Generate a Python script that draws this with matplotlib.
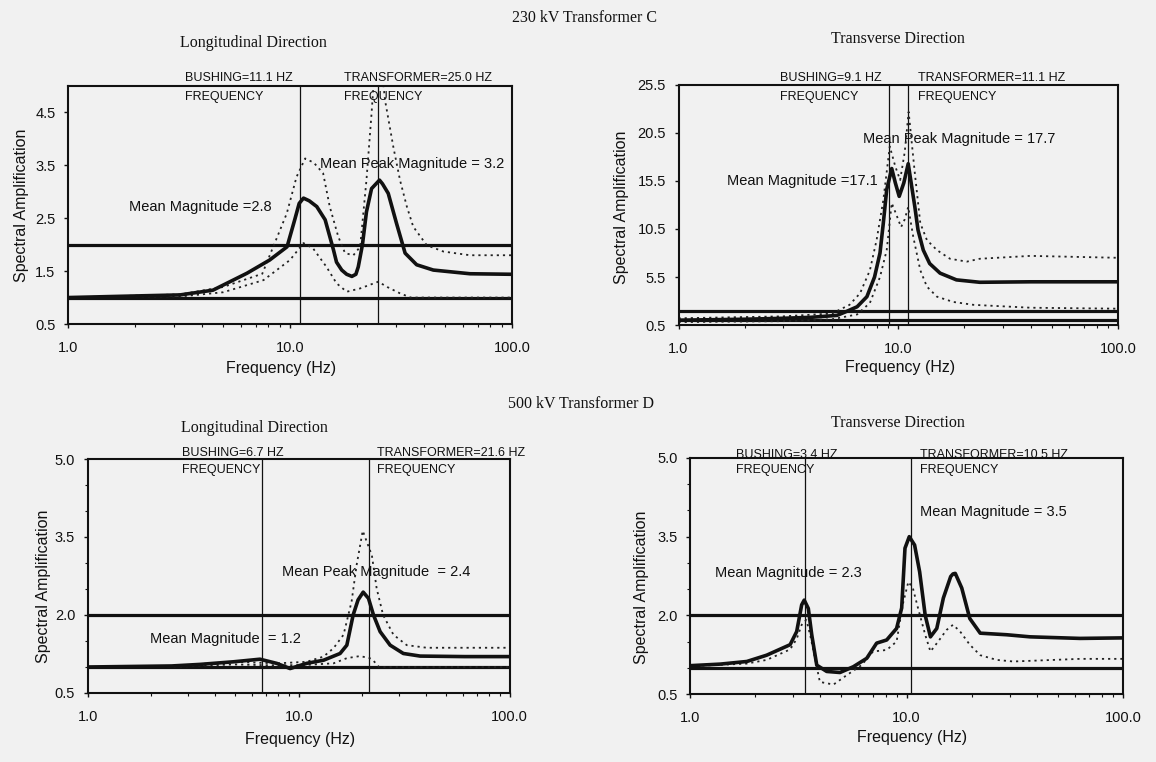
import matplotlib
matplotlib.use("Agg")
import matplotlib.pyplot as plt
from matplotlib.ticker import FixedLocator, NullFormatter, LogLocator

# ---------------- data ----------------
# 230 kV Transformer C, longitudinal
c_long_f = [1.0, 2.0, 3.2, 4.5, 6.4, 8.1, 9.7, 10.5, 11.0, 11.5, 12.2, 13.2, 14.4, 15.7, 16.2, 17.1,
            18.0, 19.0, 19.8, 20.3, 21.2, 22.1, 23.3, 24.4, 25.3, 26.1, 27.7, 30.2, 33.0, 37.2, 44.2,
            64.7, 100.0]
c_long_mean = [1.0, 1.03, 1.05, 1.14, 1.46, 1.71, 1.96, 2.47, 2.78, 2.88, 2.83, 2.72, 2.47, 1.90, 1.67,
               1.52, 1.44, 1.40, 1.44, 1.58, 2.0, 2.62, 3.06, 3.15, 3.22, 3.15, 2.97, 2.40, 1.84, 1.62,
               1.52, 1.45, 1.44]
c_long_up_f = [1.0, 3.2, 5.0, 7.5, 9.67, 10.7, 11.7, 12.8, 14.1, 15.1, 16.5, 17.7, 19.3, 20.7, 22.1, 23.3,
               24.3, 25.5, 26.8, 29.2, 31.3, 33.6, 35.9, 41.3, 49.1, 64.7, 100.0]
c_long_up = [1.0, 1.06, 1.2, 1.45, 2.59, 3.28, 3.63, 3.55, 3.35, 2.72, 2.15, 1.84, 1.80, 1.96, 3.22, 4.48,
             5.6, 5.6, 4.73, 3.85, 3.22, 2.72, 2.34, 1.99, 1.87, 1.80, 1.80]
c_long_lo_f = [1.0, 3.2, 5.0, 7.6, 10.0, 11.5, 12.7, 14.6, 16.2, 18.0, 20.6, 25.0, 27.4, 31.3, 35.0, 100.0]
c_long_lo = [1.0, 1.02, 1.1, 1.33, 1.71, 2.03, 1.93, 1.58, 1.27, 1.11, 1.17, 1.30, 1.20, 1.08, 1.0, 1.0]

# 230 kV Transformer C, transverse
c_tran_f = [1.0, 2.0, 3.0, 4.0, 5.26, 5.8, 6.5, 7.2, 7.8, 8.26, 8.55, 8.86, 9.34, 9.7, 10.1, 10.6, 11.1,
            11.9, 12.3, 13.0, 13.9, 15.5, 18.4, 23.5, 40.0, 100.0]
c_tran_mean = [1.0, 1.1, 1.2, 1.3, 1.5, 1.9, 2.4, 3.45, 5.5, 8.0, 11.1, 14.6, 16.8, 15.3, 13.9, 15.3, 17.3,
               12.8, 10.4, 8.3, 6.9, 5.9, 5.2, 4.95, 5.0, 5.0]
c_tran_up_f = [1.0, 3.0, 5.0, 6.0, 6.7, 7.43, 7.97, 8.55, 9.15, 9.7, 10.2, 10.7, 11.15, 11.9, 12.6, 13.5,
               15.0, 17.2, 20.5, 23.5, 40.0, 100.0]
c_tran_up = [1.2, 1.4, 1.7, 2.6, 3.8, 6.2, 9.35, 13.5, 19.1, 17.0, 15.6, 18.5, 22.7, 16.3, 11.1, 9.35,
             8.3, 7.4, 7.1, 7.4, 7.7, 7.5]
c_tran_lo_f = [1.0, 3.0, 5.0, 6.5, 7.43, 8.26, 8.86, 9.34, 9.8, 10.3, 10.7, 11.1, 11.7, 12.6, 13.5, 15.0,
               17.8, 22.0, 40.0, 100.0]
c_tran_lo = [0.8, 0.9, 1.1, 1.6, 2.8, 5.5, 8.3, 13.2, 12.0, 10.7, 11.5, 12.8, 9.7, 6.2, 4.5, 3.45,
             2.9, 2.6, 2.3, 2.2]

# 500 kV Transformer D, longitudinal
d_long_f = [1.0, 2.5, 3.4, 4.9, 6.55, 7.86, 9.1, 10.9, 13.1, 15.7, 16.9, 18.1, 19.1, 20.2, 21.4, 22.6,
            24.3, 27.1, 31.3, 37.6, 61.0, 100.0]
d_long_mean = [1.0, 1.02, 1.05, 1.1, 1.15, 1.07, 0.97, 1.07, 1.13, 1.26, 1.42, 2.0, 2.29, 2.44, 2.32, 2.0,
               1.68, 1.42, 1.26, 1.21, 1.2, 1.2]
d_long_up_f = [1.0, 2.5, 4.9, 7.86, 10.9, 13.1, 14.6, 16.3, 17.8, 18.8, 20.1, 21.0, 22.2, 23.4, 25.1,
               28.1, 32.5, 40.4, 100.0]
d_long_up = [1.0, 1.02, 1.1, 1.07, 1.1, 1.2, 1.36, 1.62, 2.26, 2.96, 3.62, 3.41, 3.15, 2.51, 2.0,
             1.62, 1.42, 1.37, 1.37]
d_long_lo_f = [1.0, 2.5, 4.9, 7.86, 10.9, 13.1, 14.6, 16.9, 19.5, 21.7, 22.6, 24.0, 100.0]
d_long_lo = [1.0, 1.0, 1.05, 1.03, 1.04, 1.06, 1.07, 1.17, 1.21, 1.17, 1.12, 1.0, 1.0]

# 500 kV Transformer D, transverse
d_tran_f = [1.0, 1.38, 1.83, 2.26, 2.9, 3.11, 3.28, 3.37, 3.52, 3.65, 3.85, 4.28, 4.93, 5.68, 6.55, 7.28,
            8.1, 9.0, 9.5, 9.84, 10.3, 10.9, 11.5, 12.2, 12.9, 13.8, 14.8, 16.0, 16.4, 16.8, 18.0, 19.6,
            21.9, 29.0, 37.2, 63.3, 100.0]
d_tran_mean = [1.04, 1.07, 1.12, 1.24, 1.44, 1.69, 2.20, 2.29, 2.13, 1.63, 1.05, 0.93, 0.91, 1.02, 1.18,
               1.47, 1.53, 1.75, 2.14, 3.28, 3.50, 3.34, 2.83, 2.0, 1.59, 1.75, 2.33, 2.74, 2.79, 2.80,
               2.52, 1.94, 1.66, 1.63, 1.59, 1.56, 1.57]
d_tran_lo_f = [1.0, 1.83, 2.26, 2.9, 3.11, 3.3, 3.45, 3.6, 3.98, 4.6, 5.3, 6.2, 7.0, 8.1, 9.0, 9.6, 10.2,
               10.7, 11.3, 12.2, 12.9, 14.0, 15.3, 16.4, 17.7, 19.6, 21.9, 26.1, 31.1, 63.3, 100.0]
d_tran_lo = [1.03, 1.08, 1.15, 1.35, 1.55, 1.85, 1.91, 1.6, 0.73, 0.68, 0.86, 1.05, 1.31, 1.34, 1.50, 2.2,
             2.64, 2.52, 2.14, 1.63, 1.31, 1.5, 1.72, 1.82, 1.69, 1.44, 1.24, 1.15, 1.12, 1.17, 1.17]

ref_levels = [1.0, 2.0]
x_ticks = [1, 10, 100]
x_tick_labels = ["1.0", "10.0", "100.0"]

# ---------------- figure ----------------
BG = "#f1f1f1"
INK = "#111111"
SANS = "Liberation Sans"
SERIF = "Liberation Serif"

fig = plt.figure(figsize=(11.56, 7.62), dpi=100, facecolor=BG)

def px_rect(l, r, t, b):
    W, H = 1156, 762
    return [l / W, 1 - b / H, (r - l) / W, (b - t) / H]

panels = [
    dict(rect=px_rect(68, 512, 86, 324), ylim=(0.5, 5.0), yticks=[0.5, 1.5, 2.5, 3.5, 4.5],
         yminor=None,
         curves=[(c_long_f, c_long_mean, "mean"), (c_long_up_f, c_long_up, "dot"), (c_long_lo_f, c_long_lo, "dot")],
         vlines=[11.1, 25.0],
         labels=[("BUSHING=11.1 HZ", 0.2635, 1.034, 9), ("FREQUENCY", 0.2635, 0.954, 9),
                 ("TRANSFORMER=25.0 HZ", 0.6216, 1.034, 9), ("FREQUENCY", 0.6216, 0.954, 9),
                 ("Mean Magnitude =2.8", 0.1385, 0.4916, 10.5),
                 ("Mean Peak Magnitude = 3.2", 0.5676, 0.672, 10.5)],
         xlab=(0.48, -0.185), ylab=(-0.105, 0.5)),
    dict(rect=px_rect(678.5, 1118, 85, 325), ylim=(0.5, 25.5), yticks=[0.5, 5.5, 10.5, 15.5, 20.5, 25.5],
         yminor=None,
         curves=[(c_tran_f, c_tran_mean, "mean"), (c_tran_up_f, c_tran_up, "dot"), (c_tran_lo_f, c_tran_lo, "dot")],
         vlines=[9.1, 11.1],
         labels=[("BUSHING=9.1 HZ", 0.231, 1.029, 9), ("FREQUENCY", 0.231, 0.95, 9),
                 ("TRANSFORMER=11.1 HZ", 0.545, 1.029, 9), ("FREQUENCY", 0.545, 0.95, 9),
                 ("Mean Peak Magnitude = 17.7", 0.42, 0.775, 10.5),
                 ("Mean Magnitude =17.1", 0.110, 0.60, 10.5)],
         xlab=(0.504, -0.179), ylab=(-0.129, 0.49)),
    dict(rect=px_rect(87.7, 509.8, 459, 693), ylim=(0.5, 5.0), yticks=[0.5, 2.0, 3.5, 5.0],
         yminor=[1.0, 1.5, 2.5, 3.0, 4.0, 4.5],
         curves=[(d_long_f, d_long_mean, "mean"), (d_long_up_f, d_long_up, "dot"), (d_long_lo_f, d_long_lo, "dot")],
         vlines=[6.7, 21.6],
         labels=[("BUSHING=6.7 HZ", 0.2234, 1.026, 9), ("FREQUENCY", 0.2234, 0.953, 9),
                 ("TRANSFORMER=21.6 HZ", 0.685, 1.026, 9), ("FREQUENCY", 0.685, 0.953, 9),
                 ("Mean Peak Magnitude  = 2.4", 0.4595, 0.517, 10.5),
                 ("Mean Magnitude  = 1.2", 0.1476, 0.229, 10.5)],
         xlab=(0.503, -0.2), ylab=(-0.104, 0.457)),
    dict(rect=px_rect(690, 1123, 458, 694), ylim=(0.5, 5.0), yticks=[0.5, 2.0, 3.5, 5.0],
         yminor=[1.0, 1.5, 2.5, 3.0, 4.0, 4.5],
         curves=[(d_tran_f, d_tran_mean, "mean"), (d_tran_lo_f, d_tran_lo, "dot")],
         vlines=[3.4, 10.5],
         labels=[("BUSHING=3.4 HZ", 0.106, 1.013, 9), ("FREQUENCY", 0.106, 0.949, 9),
                 ("TRANSFORMER=10.5 HZ", 0.531, 1.013, 9), ("FREQUENCY", 0.531, 0.949, 9),
                 ("Mean Magnitude = 3.5", 0.531, 0.772, 10.5),
                 ("Mean Magnitude = 2.3", 0.0577, 0.511, 10.5)],
         xlab=(0.513, -0.186), ylab=(-0.111, 0.453)),
]

for p in panels:
    ax = fig.add_axes(p["rect"])
    ax.set_facecolor(BG)
    ax.set_xscale("log")
    ax.set_xlim(1, 100)
    ax.set_ylim(*p["ylim"])
    for lvl in ref_levels:
        ax.axhline(lvl, color=INK, lw=2.3, zorder=2)
    for v in p["vlines"]:
        ax.axvline(v, color=INK, lw=0.9, zorder=2)
    for f, vals, kind in p["curves"]:
        if kind == "mean":
            ax.plot(f, vals, color=INK, lw=2.6, solid_joinstyle="round", solid_capstyle="round", zorder=4)
        else:
            ax.plot(f, vals, color="#222222", lw=1.3, linestyle=(0, (1.2, 2.2)), zorder=3)
    for txt, x, y, fs in p["labels"]:
        ax.text(x, y, txt, transform=ax.transAxes, ha="left", va="center", fontsize=fs,
                family=SANS, color=INK, zorder=1, clip_on=False)
    ax.set_xticks(x_ticks)
    ax.set_xticklabels(x_tick_labels)
    ax.xaxis.set_minor_locator(LogLocator(base=10, subs=range(2, 10)))
    ax.xaxis.set_minor_formatter(NullFormatter())
    ax.set_yticks(p["yticks"])
    ax.set_yticklabels([f"{t:.1f}" for t in p["yticks"]])
    if p["yminor"]:
        ax.yaxis.set_minor_locator(FixedLocator(p["yminor"]))
    ax.tick_params(axis="both", which="major", direction="out", length=3, width=1, colors=INK,
                   labelsize=10.5)
    ax.tick_params(axis="x", which="major", pad=9)
    ax.tick_params(axis="y", which="major", pad=6)
    ax.tick_params(axis="both", which="minor", direction="out", length=2, width=0.8, colors=INK)
    for lab in ax.get_xticklabels() + ax.get_yticklabels():
        lab.set_family(SANS)
    for s in ax.spines.values():
        s.set_linewidth(1.5)
        s.set_color(INK)
        s.set_zorder(5)
    ax.set_xlabel("Frequency (Hz)", fontsize=11.5, family=SANS, color=INK)
    ax.set_ylabel("Spectral Amplification", fontsize=11.5, family=SANS, color=INK)
    ax.xaxis.set_label_coords(*p["xlab"])
    ax.yaxis.set_label_coords(*p["ylab"])
    ax.xaxis.label.set_va("center")
    ax.yaxis.label.set_va("center")

fig_texts = [
    ("230 kV Transformer C", 0.506, 0.9765),
    ("500 kV Transformer D", 0.503, 0.470),
    ("Longitudinal Direction", 0.219, 0.944),
    ("Transverse Direction", 0.777, 0.949),
    ("Longitudinal Direction", 0.2197, 0.4386),
    ("Transverse Direction", 0.777, 0.445),
]
for txt, x, y in fig_texts:
    fig.text(x, y, txt, ha="center", va="center", fontsize=11.5, family=SERIF, color=INK)

fig.savefig("out.png", dpi=100, facecolor=BG)
